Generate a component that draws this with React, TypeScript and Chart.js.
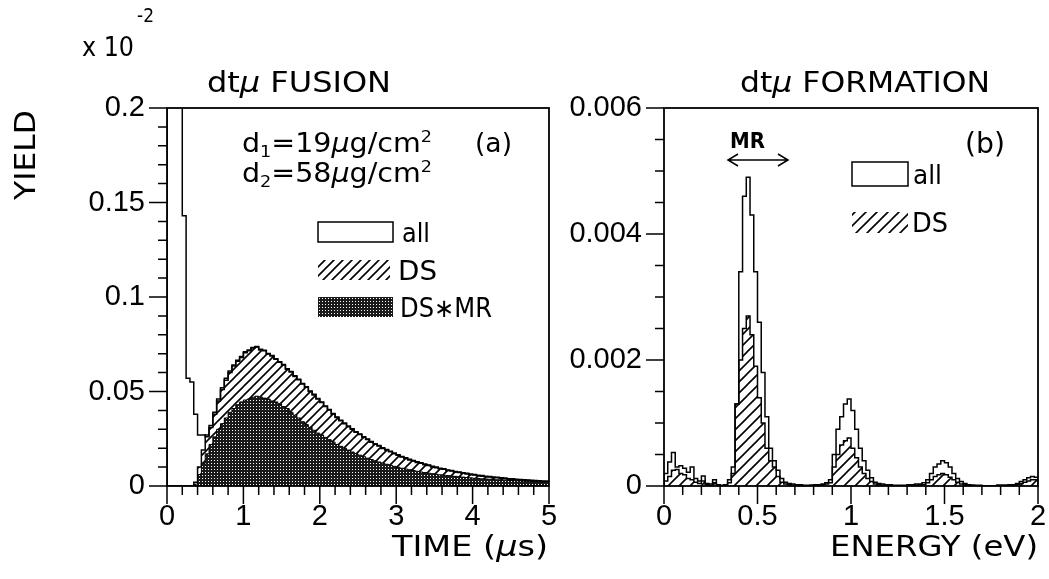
import { useEffect, useRef } from 'react';
import { Chart, registerables } from 'chart.js';

Chart.register(...registerables);

// ---------- DATA ----------
// (a) dtμ fusion: time histogram, 0.05 µs bins from 0 to 5 µs (yield in units of 10^-2)
const TIME_START = 0;
const TIME_BIN = 0.05;
const fusionAll = [
  0.9, 0.6, 0.4, 0.25, 0.143, 0.057, 0.055, 0.038, 0.027, 0.027,
  0.026, 0.032, 0.039, 0.046, 0.052, 0.057, 0.0608, 0.064, 0.0665, 0.0685,
  0.071, 0.072, 0.0733, 0.0738, 0.0724, 0.0718, 0.0701, 0.069, 0.0673, 0.0658,
  0.0643, 0.062, 0.0606, 0.0583, 0.0565, 0.0542, 0.0525, 0.0503, 0.0485, 0.0463,
  0.0445, 0.0423, 0.0405, 0.0383, 0.0365, 0.0348, 0.0333, 0.0317, 0.0303, 0.0287,
  0.0275, 0.0261, 0.0249, 0.0235, 0.0224, 0.0214, 0.0202, 0.0193, 0.0184, 0.0174,
  0.0166, 0.0156, 0.0149, 0.0141, 0.0135, 0.0128, 0.0123, 0.0116, 0.0111, 0.0104,
  0.01, 0.0094, 0.0091, 0.0085, 0.0082, 0.0077, 0.0074, 0.007, 0.0067, 0.0063,
  0.0061, 0.0057, 0.0055, 0.0052, 0.005, 0.0047, 0.0046, 0.0043, 0.0042, 0.0039,
  0.0038, 0.0036, 0.0035, 0.0033, 0.0032, 0.003, 0.0029, 0.0028, 0.0027, 0.0026,
];
const fusionDS = [
  0, 0, 0, 0, 0, 0, 0, 0.002, 0.01, 0.019,
  0.027, 0.031, 0.038, 0.045, 0.051, 0.056, 0.06, 0.0635, 0.066, 0.068,
  0.0705, 0.0715, 0.073, 0.0735, 0.072, 0.0715, 0.0698, 0.0688, 0.067, 0.0655,
  0.064, 0.0618, 0.0603, 0.058, 0.0562, 0.054, 0.0522, 0.05, 0.0482, 0.046,
  0.0442, 0.042, 0.0402, 0.038, 0.0362, 0.0345, 0.033, 0.0314, 0.03, 0.0284,
  0.0272, 0.0258, 0.0246, 0.0232, 0.0221, 0.0211, 0.0199, 0.019, 0.0181, 0.0171,
  0.0163, 0.0153, 0.0146, 0.0138, 0.0132, 0.0125, 0.012, 0.0113, 0.0108, 0.0101,
  0.0097, 0.0091, 0.0088, 0.0082, 0.0079, 0.0074, 0.0071, 0.0067, 0.0064, 0.006,
  0.0058, 0.0054, 0.0052, 0.0049, 0.0047, 0.0044, 0.0043, 0.004, 0.0039, 0.0036,
  0.0035, 0.0033, 0.0032, 0.003, 0.0029, 0.0027, 0.0026, 0.0025, 0.0024, 0.0023,
];
const fusionDSMR = [
  0, 0, 0, 0, 0, 0, 0, 0.001, 0.006, 0.012,
  0.017, 0.022, 0.026, 0.03, 0.033, 0.036, 0.039, 0.041, 0.043, 0.0445,
  0.0455, 0.046, 0.047, 0.0475, 0.047, 0.0465, 0.046, 0.045, 0.0445, 0.0435,
  0.042, 0.041, 0.039, 0.0375, 0.036, 0.034, 0.0325, 0.031, 0.0295, 0.028,
  0.027, 0.0257, 0.0245, 0.0233, 0.022, 0.021, 0.02, 0.019, 0.018, 0.0171,
  0.0163, 0.0155, 0.0147, 0.014, 0.0133, 0.0127, 0.0121, 0.0115, 0.011, 0.0104,
  0.0099, 0.0094, 0.009, 0.0086, 0.0082, 0.0078, 0.0074, 0.0071, 0.0068, 0.0065,
  0.0062, 0.0059, 0.0057, 0.0055, 0.0053, 0.0051, 0.0049, 0.0047, 0.0045, 0.0043,
  0.0041, 0.004, 0.0038, 0.0037, 0.0036, 0.0034, 0.0033, 0.0032, 0.0031, 0.003,
  0.0029, 0.0028, 0.0027, 0.0026, 0.0025, 0.0024, 0.0023, 0.0022, 0.0021, 0.002,
];

// (b) dtμ formation: energy histogram, 0.02 eV bins from 0 to 2 eV
const ENERGY_START = 0;
const ENERGY_BIN = 0.02;
const formationAll = [
  0.0002, 0.00038, 0.00053, 0.0003, 0.00032, 0.00028, 0.00022, 0.0003, 0.00012, 0.00008,
  0.00016, 0.00004, 0.00003, 0.0001, 0.00002, 0.00001, 0.00002, 0.0001, 0.0003, 0.0013,
  0.0034, 0.0046, 0.0049, 0.0043, 0.0034, 0.0026, 0.0018, 0.0011, 0.0006, 0.0004,
  0.00025, 0.00012, 0.00006, 0.00004, 0.00003, 0.00002, 0.00002, 0.00001, 0.00001, 0.00001,
  0.00002, 0.00002, 0.00003, 0.00005, 0.0001, 0.0005, 0.0009, 0.0011, 0.0013, 0.00138,
  0.0012, 0.0009, 0.0006, 0.0004, 0.00025, 0.00013, 0.00006, 0.00004, 0.00003, 0.00002,
  0.00002, 0.00001, 0.00001, 0.00001, 0.00001, 0.00002, 0.00002, 0.00003, 0.00003, 0.00005,
  0.0001, 0.0002, 0.0003, 0.00035, 0.0004, 0.00037, 0.0003, 0.0002, 0.00012, 0.00007,
  0.00004, 0.00002, 0.00001, 0.00001, 0.00001, 0, 0, 0, 0, 0.00001,
  0.00001, 0.00001, 0.00002, 0.00002, 0.00004, 0.00007, 0.0001, 0.00013, 0.00015, 0.00014,
];
const formationDS = [
  0.00008, 0.00015, 0.00025, 0.00026, 0.0002, 0.00018, 0.00012, 0.0001, 0.00006, 0.00004,
  0.00008, 0.00002, 0.00001, 0.00005, 0.00001, 0, 0.00001, 0.00005, 0.0002, 0.0013,
  0.002, 0.0025, 0.0027, 0.0024, 0.0019, 0.0014, 0.001, 0.0006, 0.0004, 0.0003,
  0.00015, 0.00006, 0.00003, 0.00002, 0.00001, 0.00001, 0.00001, 0, 0, 0.00001,
  0.00001, 0.00001, 0.00002, 0.00003, 0.00005, 0.0003, 0.0005, 0.00065, 0.00072, 0.00076,
  0.0006, 0.00045, 0.0003, 0.0002, 0.00012, 0.00007, 0.00003, 0.00002, 0.00001, 0.00001,
  0.00001, 0, 0, 0, 0, 0.00001, 0.00001, 0.00001, 0.00002, 0.00002,
  0.00005, 0.0001, 0.00015, 0.00018, 0.0002, 0.00018, 0.00014, 0.0001, 0.00006, 0.00003,
  0.00002, 0.00001, 0.00001, 0, 0, 0, 0, 0, 0, 0.00001,
  0.00001, 0.00001, 0.00001, 0.00001, 0.00002, 0.00004, 0.00006, 0.00008, 0.0001, 0.0001,
];

// tick values and labels
const fusionXTicks = [0, 1, 2, 3, 4, 5];
const fusionXLabels = ['0', '1', '2', '3', '4', '5'];
const fusionYTicks = [0, 0.05, 0.1, 0.15, 0.2];
const fusionYLabels = ['0', '0.05', '0.1', '0.15', '0.2'];
const formationXTicks = [0, 0.5, 1, 1.5, 2];
const formationXLabels = ['0', '0.5', '1', '1.5', '2'];
const formationYTicks = [0, 0.002, 0.004, 0.006];
const formationYLabels = ['0', '0.002', '0.004', '0.006'];

// ---------- HELPERS ----------
const TEXT_FAMILY = '"DejaVu Sans", sans-serif';
const TICK_FAMILY = '"Liberation Sans", Arial, sans-serif';

function histPoints(start: number, width: number, values: number[]) {
  const pts: { x: number; y: number }[] = [{ x: start, y: 0 }];
  values.forEach((v, i) => pts.push({ x: start + i * width, y: v }));
  pts.push({ x: start + values.length * width, y: 0 });
  return pts;
}

function hatchPattern(step: number, lw: number) {
  const c = document.createElement('canvas');
  c.width = step;
  c.height = step;
  const g = c.getContext('2d')!;
  g.strokeStyle = '#000';
  g.lineWidth = lw;
  g.lineCap = 'square';
  g.beginPath();
  g.moveTo(-step, step * 2);
  g.lineTo(step * 2, -step);
  g.moveTo(-step, step);
  g.lineTo(step, -step);
  g.moveTo(0, step * 2);
  g.lineTo(step * 2, 0);
  g.stroke();
  return g.createPattern(c, 'repeat')!;
}

function dotPattern() {
  const c = document.createElement('canvas');
  c.width = 3;
  c.height = 3;
  const g = c.getContext('2d')!;
  g.fillStyle = '#1a1a1a';
  g.fillRect(0, 0, 3, 3);
  g.fillStyle = '#ffffff';
  g.fillRect(1, 1, 1, 1);
  return g.createPattern(c, 'repeat')!;
}

type Seg = { t: string; s?: 'i' | 'sub' | 'sup' };

function segFont(size: number, s: Seg['s'], weight: string) {
  const sz = s === 'sub' || s === 'sup' ? size * 0.62 : size;
  return `${s === 'i' ? 'italic ' : ''}${weight} ${sz}px ${TEXT_FAMILY}`;
}

function drawRich(
  ctx: CanvasRenderingContext2D,
  segs: Seg[],
  x: number,
  baseline: number,
  size: number,
  o: { align?: 'left' | 'right' | 'center'; width?: number; weight?: string } = {}
) {
  const weight = o.weight || 'normal';
  ctx.save();
  let nat = 0;
  const ws = segs.map((sg) => {
    ctx.font = segFont(size, sg.s, weight);
    const w = ctx.measureText(sg.t).width;
    nat += w;
    return w;
  });
  const sx = o.width ? o.width / nat : 1;
  const total = nat * sx;
  let x0 = x;
  if (o.align === 'right') x0 = x - total;
  else if (o.align === 'center') x0 = x - total / 2;
  ctx.translate(x0, baseline);
  ctx.scale(sx, 1);
  ctx.fillStyle = '#000';
  ctx.textBaseline = 'alphabetic';
  ctx.textAlign = 'left';
  let cx = 0;
  segs.forEach((sg, i) => {
    ctx.font = segFont(size, sg.s, weight);
    const dy = sg.s === 'sub' ? size * 0.2 : sg.s === 'sup' ? -size * 0.4 : 0;
    ctx.fillText(sg.t, cx, dy);
    cx += ws[i];
  });
  ctx.restore();
}

function drawFrameAndTicks(
  chart: any,
  xMinor: number,
  xMajorEvery: number,
  yMinor: number,
  yMajorEvery: number
) {
  const ctx: CanvasRenderingContext2D = chart.ctx;
  const { left, right, top, bottom } = chart.chartArea;
  const xs = chart.scales.x;
  const ys = chart.scales.y;
  ctx.save();
  ctx.strokeStyle = '#000';
  ctx.lineWidth = 1.8;
  ctx.strokeRect(left, top, right - left, bottom - top);
  ctx.lineWidth = 1.5;
  ctx.beginPath();
  const nx = Math.round((xs.max - xs.min) / xMinor);
  for (let i = 0; i <= nx; i++) {
    const px = xs.getPixelForValue(xs.min + i * xMinor);
    const len = i % xMajorEvery === 0 ? 18 : 9;
    ctx.moveTo(px, bottom);
    ctx.lineTo(px, bottom + len);
  }
  const ny = Math.round((ys.max - ys.min) / yMinor);
  for (let i = 0; i <= ny; i++) {
    const py = ys.getPixelForValue(ys.min + i * yMinor);
    const len = i % yMajorEvery === 0 ? 18 : 9;
    ctx.moveTo(left, py);
    ctx.lineTo(left - len, py);
  }
  ctx.stroke();
  ctx.restore();
}

function axisOptions(
  min: number,
  max: number,
  ticks: number[],
  labels: string[],
  isX: boolean,
  fixed: number,
  padding: number
) {
  return {
    type: 'linear' as const,
    min,
    max,
    grid: { display: false },
    border: { display: false },
    ticks: {
      color: '#000',
      font: { family: TICK_FAMILY, size: 29 },
      padding,
      autoSkip: false,
      maxRotation: 0,
      callback: (_v: any, i: number) => labels[i],
    },
    afterBuildTicks: (s: any) => {
      s.ticks = ticks.map((v) => ({ value: v }));
    },
    afterFit: (s: any) => {
      if (isX) s.height = fixed;
      else s.width = fixed;
      s.paddingLeft = 0;
      s.paddingRight = 0;
      s.paddingTop = 0;
      s.paddingBottom = 0;
    },
  };
}

// ---------- APP ----------
export default function App() {
  const leftRef = useRef<HTMLCanvasElement>(null);
  const rightRef = useRef<HTMLCanvasElement>(null);

  useEffect(() => {
    const hatchL = hatchPattern(9, 1.6);
    const hatchR = hatchPattern(11, 1.6);
    const dots = dotPattern();

    const leftDecor = {
      id: 'leftDecor',
      afterDraw(chart: any) {
        const ctx: CanvasRenderingContext2D = chart.ctx;
        drawFrameAndTicks(chart, 0.2, 5, 0.01, 5);
        drawRich(ctx, [{ t: 'x 10' }], 82, 56, 26, { width: 52 });
        drawRich(ctx, [{ t: '-2' }], 137, 22, 20, { width: 17 });
        drawRich(ctx, [{ t: 'dt' }, { t: 'μ', s: 'i' }, { t: ' FUSION' }], 207, 92, 28, { width: 184 });
        ctx.save();
        ctx.translate(35, 155);
        ctx.rotate(-Math.PI / 2);
        drawRich(ctx, [{ t: 'YIELD' }], 0, 0, 29, { align: 'center', width: 90 });
        ctx.restore();
        drawRich(
          ctx,
          [{ t: 'd' }, { t: '1', s: 'sub' }, { t: '=19' }, { t: 'μ', s: 'i' }, { t: 'g/cm' }, { t: '2', s: 'sup' }],
          242, 152, 26, { width: 190 }
        );
        drawRich(ctx, [{ t: '(a)' }], 475, 152, 26, { width: 37 });
        drawRich(
          ctx,
          [{ t: 'd' }, { t: '2', s: 'sub' }, { t: '=58' }, { t: 'μ', s: 'i' }, { t: 'g/cm' }, { t: '2', s: 'sup' }],
          242, 182, 26, { width: 190 }
        );
        // legend swatches
        ctx.save();
        ctx.strokeStyle = '#000';
        ctx.lineWidth = 1.5;
        ctx.fillStyle = '#fff';
        ctx.fillRect(318, 222, 75, 20);
        ctx.strokeRect(318, 222, 75, 20);
        ctx.fillStyle = hatchL;
        ctx.fillRect(318, 260, 72, 20);
        ctx.fillStyle = dots;
        ctx.fillRect(318, 297, 75, 20);
        ctx.restore();
        drawRich(ctx, [{ t: 'all' }], 402, 242, 26, { width: 28 });
        drawRich(ctx, [{ t: 'DS' }], 398, 280, 26, { width: 39 });
        drawRich(ctx, [{ t: 'DS∗MR' }], 400, 317, 26, { width: 92 });
        drawRich(ctx, [{ t: 'TIME (' }, { t: 'μ', s: 'i' }, { t: 's)' }], 548, 556, 28, { align: 'right', width: 156 });
      },
    };

    const rightDecor = {
      id: 'rightDecor',
      afterDraw(chart: any) {
        const ctx: CanvasRenderingContext2D = chart.ctx;
        drawFrameAndTicks(chart, 0.1, 5, 0.0005, 4);
        ctx.save();
        ctx.translate(-560, 0);
        drawRich(ctx, [{ t: 'dt' }, { t: 'μ', s: 'i' }, { t: ' FORMATION' }], 740, 92, 28, { width: 250 });
        drawRich(ctx, [{ t: 'MR' }], 730, 148, 22, { width: 35, weight: 'bold' });
        ctx.strokeStyle = '#000';
        ctx.lineWidth = 1.5;
        ctx.beginPath();
        ctx.moveTo(728, 160);
        ctx.lineTo(788, 160);
        ctx.moveTo(738, 154);
        ctx.lineTo(728, 160);
        ctx.lineTo(738, 166);
        ctx.moveTo(778, 154);
        ctx.lineTo(788, 160);
        ctx.lineTo(778, 166);
        ctx.stroke();
        drawRich(ctx, [{ t: '(b)' }], 965, 153, 28, { width: 40 });
        ctx.fillStyle = '#fff';
        ctx.fillRect(852, 162, 56, 24);
        ctx.strokeRect(852, 162, 56, 24);
        ctx.fillStyle = hatchR;
        ctx.fillRect(852, 212, 56, 21);
        drawRich(ctx, [{ t: 'all' }], 913, 184, 26, { width: 29 });
        drawRich(ctx, [{ t: 'DS' }], 912, 232, 26, { width: 36 });
        drawRich(ctx, [{ t: 'ENERGY (eV)' }], 1038, 556, 28, { align: 'right', width: 208 });
        ctx.restore();
      },
    };

    const lineBase = {
      stepped: 'before' as const,
      borderColor: '#000',
      pointRadius: 0,
      tension: 0,
    };

    const left = new Chart(leftRef.current!, {
      type: 'line',
      data: {
        datasets: [
          { ...lineBase, label: 'DS*MR', data: histPoints(TIME_START, TIME_BIN, fusionDSMR), borderWidth: 1, fill: 'origin', backgroundColor: dots },
          { ...lineBase, label: 'DS', data: histPoints(TIME_START, TIME_BIN, fusionDS), borderWidth: 1.5, fill: 'origin', backgroundColor: hatchL },
          { ...lineBase, label: 'all', data: histPoints(TIME_START, TIME_BIN, fusionAll), borderWidth: 1.5, fill: false },
        ],
      },
      options: {
        animation: false,
        responsive: false,
        events: [],
        layout: { padding: { left: 0, right: 11, top: 108, bottom: 0 } },
        plugins: { legend: { display: false }, tooltip: { enabled: false }, title: { display: false } },
        scales: {
          x: axisOptions(0, 5, fusionXTicks, fusionXLabels, true, 93, 6),
          y: axisOptions(0, 0.2, fusionYTicks, fusionYLabels, false, 167, 14),
        },
      },
      plugins: [leftDecor],
    } as any);

    const right = new Chart(rightRef.current!, {
      type: 'line',
      data: {
        datasets: [
          { ...lineBase, label: 'DS', data: histPoints(ENERGY_START, ENERGY_BIN, formationDS), borderWidth: 1.5, fill: 'origin', backgroundColor: hatchR },
          { ...lineBase, label: 'all', data: histPoints(ENERGY_START, ENERGY_BIN, formationAll), borderWidth: 1.5, fill: false },
        ],
      },
      options: {
        animation: false,
        responsive: false,
        events: [],
        layout: { padding: { left: 0, right: 11, top: 108, bottom: 0 } },
        plugins: { legend: { display: false }, tooltip: { enabled: false }, title: { display: false } },
        scales: {
          x: axisOptions(0, 2, formationXTicks, formationXLabels, true, 93, 6),
          y: axisOptions(0, 0.006, formationYTicks, formationYLabels, false, 104, 14),
        },
      },
      plugins: [rightDecor],
    } as any);

    return () => {
      left.destroy();
      right.destroy();
    };
  }, []);

  return (
    <div style={{ position: 'absolute', left: 0, top: 0, width: 1049, height: 579, background: '#fff' }}>
      <canvas ref={leftRef} width={560} height={579} style={{ position: 'absolute', left: 0, top: 0 }} />
      <canvas ref={rightRef} width={489} height={579} style={{ position: 'absolute', left: 560, top: 0 }} />
    </div>
  );
}
